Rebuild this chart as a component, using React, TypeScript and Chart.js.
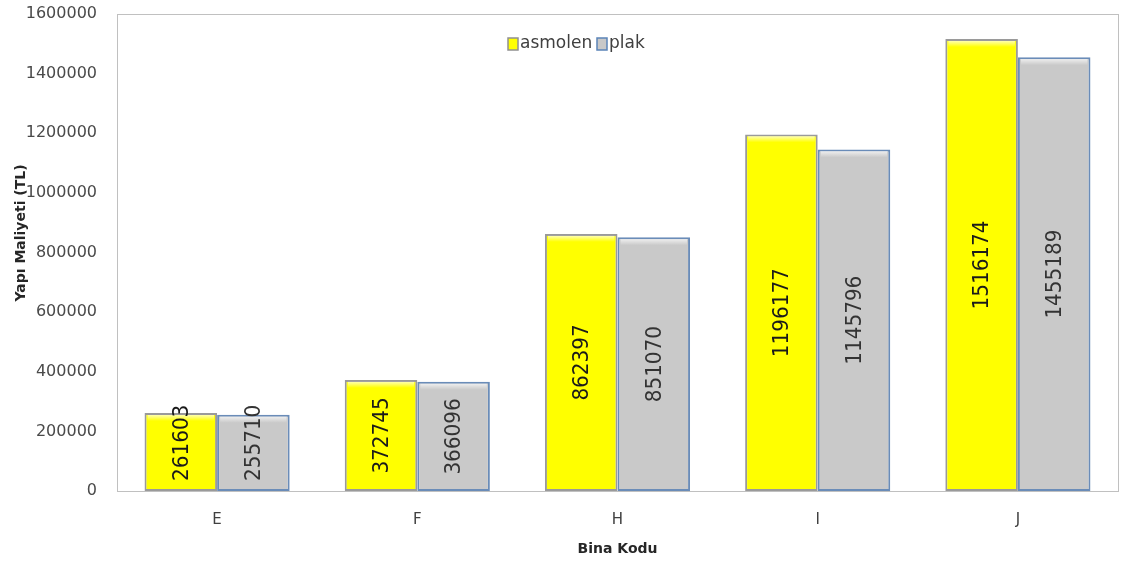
import React, { useEffect, useRef } from "react";
import { Chart, registerables } from "chart.js";

Chart.register(...registerables);

const categories = ["E", "F", "H", "I", "J"];
const asmolenValues = [261603, 372745, 862397, 1196177, 1516174];
const plakValues = [255710, 366096, 851070, 1145796, 1455189];
const seriesNames = ["asmolen", "plak"];
const yTicks = [0, 200000, 400000, 600000, 800000, 1000000, 1200000, 1400000, 1600000];
const yTitle = "Yapı Maliyeti (TL)";
const xTitle = "Bina Kodu";

const FONT = "'DejaVu Sans', sans-serif";

const customPlugin = {
  id: "custom",
  beforeDatasetsDraw(chart: any) {
    const { ctx, chartArea } = chart;
    ctx.save();
    ctx.strokeStyle = "#c0c0c0";
    ctx.lineWidth = 1;
    ctx.strokeRect(chartArea.left + 0.5, chartArea.top + 0.5, chartArea.right - chartArea.left, chartArea.bottom - chartArea.top);
    ctx.restore();
  },
  afterDatasetsDraw(chart: any) {
    const { ctx, chartArea } = chart;
    chart.data.datasets.forEach((ds: any, di: number) => {
      const meta = chart.getDatasetMeta(di);
      meta.data.forEach((bar: any) => {
        const w = bar.width;
        const left = bar.x - w / 2;
        const top = bar.y;
        ctx.save();
        const g = ctx.createLinearGradient(0, top, 0, top + 8);
        g.addColorStop(0, "rgba(255,255,255,0.9)");
        g.addColorStop(1, "rgba(255,255,255,0)");
        ctx.fillStyle = g;
        ctx.fillRect(left + 3, top + 2, w - 6, 8);
        ctx.restore();
      });
    });
    chart.data.datasets.forEach((ds: any, di: number) => {
      const meta = chart.getDatasetMeta(di);
      meta.data.forEach((bar: any, i: number) => {
        const txt = String(ds.data[i]);
        ctx.save();
        ctx.font = `20px ${FONT}`;
        const len = ctx.measureText(txt).width;
        let cy = (bar.y + bar.base) / 2;
        cy = Math.min(cy, bar.base - 10 - len / 2);
        ctx.translate(bar.x + 1, cy);
        ctx.scale(1.1, 1);
        ctx.rotate(-Math.PI / 2);
        ctx.fillStyle = di === 0 ? "#1a1a1a" : "#333333";
        ctx.textAlign = "center";
        ctx.textBaseline = "middle";
        ctx.fillText(txt, 0, 0);
        ctx.restore();
      });
    });
    ctx.save();
    ctx.font = `17px ${FONT}`;
    ctx.textBaseline = "middle";
    ctx.textAlign = "left";
    const ly = 44;
    const colors = [
      { fill: "#ffff00", stroke: "#909090" },
      { fill: "#c8c8c8", stroke: "#5b84b8" },
    ];
    const xs = [508, 597];
    seriesNames.forEach((name, k) => {
      const x = xs[k];
      ctx.fillStyle = colors[k].fill;
      ctx.fillRect(x, ly - 6, 10, 12);
      ctx.strokeStyle = colors[k].stroke;
      ctx.lineWidth = 1.5;
      ctx.strokeRect(x, ly - 6, 10, 12);
      ctx.fillStyle = "#404040";
      ctx.fillText(name, x + 12, ly);
    });
    ctx.restore();
    ctx.save();
    ctx.fillStyle = "#262626";
    ctx.font = `bold 14px ${FONT}`;
    ctx.textAlign = "center";
    ctx.textBaseline = "middle";
    ctx.fillText(xTitle, (chartArea.left + chartArea.right) / 2, 549);
    ctx.translate(21, 233);
    ctx.rotate(-Math.PI / 2);
    ctx.fillText(yTitle, 0, 0);
    ctx.restore();
  },
};

export default function App() {
  const ref = useRef<HTMLCanvasElement | null>(null);
  useEffect(() => {
    if (!ref.current) return;
    const chart = new Chart(ref.current, {
      type: "bar",
      data: {
        labels: categories,
        datasets: [
          {
            label: seriesNames[0],
            data: asmolenValues,
            backgroundColor: "#ffff00",
            borderColor: "#9a9a9a",
            borderWidth: 2,
            borderSkipped: false,
          },
          {
            label: seriesNames[1],
            data: plakValues,
            backgroundColor: "#c9c9c9",
            borderColor: "#6a8cb8",
            borderWidth: 2,
            borderSkipped: false,
          },
        ],
      },
      options: {
        animation: false,
        responsive: true,
        maintainAspectRatio: false,
        layout: { padding: { top: 14, right: 6, left: 0, bottom: 0 } },
        plugins: { legend: { display: false }, tooltip: { enabled: false } },
        datasets: { bar: { categoryPercentage: 0.725, barPercentage: 1.0 } },
        scales: {
          x: {
            grid: { display: false, drawTicks: false },
            border: { display: true, color: "#c0c0c0" },
            ticks: { color: "#404040", font: { family: FONT, size: 15 }, padding: 20 },
            afterFit(scale: any) {
              scale.height = 567 - 491;
              scale.paddingLeft = 0;
              scale.paddingRight = 0;
            },
          },
          y: {
            min: 0,
            max: 1600000,
            afterBuildTicks(scale: any) {
              scale.ticks = yTicks.map((v) => ({ value: v }));
            },
            grid: { display: false, drawTicks: false },
            border: { display: true, color: "#c0c0c0" },
            ticks: {
              color: "#4a4a4a",
              font: { family: FONT, size: 16 },
              padding: 20,
              callback: (v: any) => String(v),
            },
            afterFit(scale: any) {
              scale.width = 117;
              scale.paddingTop = 0;
              scale.paddingBottom = 0;
            },
          },
        },
      },
      plugins: [customPlugin],
    });
    return () => chart.destroy();
  }, []);
  return (
    <div style={{ position: "absolute", left: 0, top: 0, width: 1124, height: 567, background: "#fff" }}>
      <canvas ref={ref} />
    </div>
  );
}
